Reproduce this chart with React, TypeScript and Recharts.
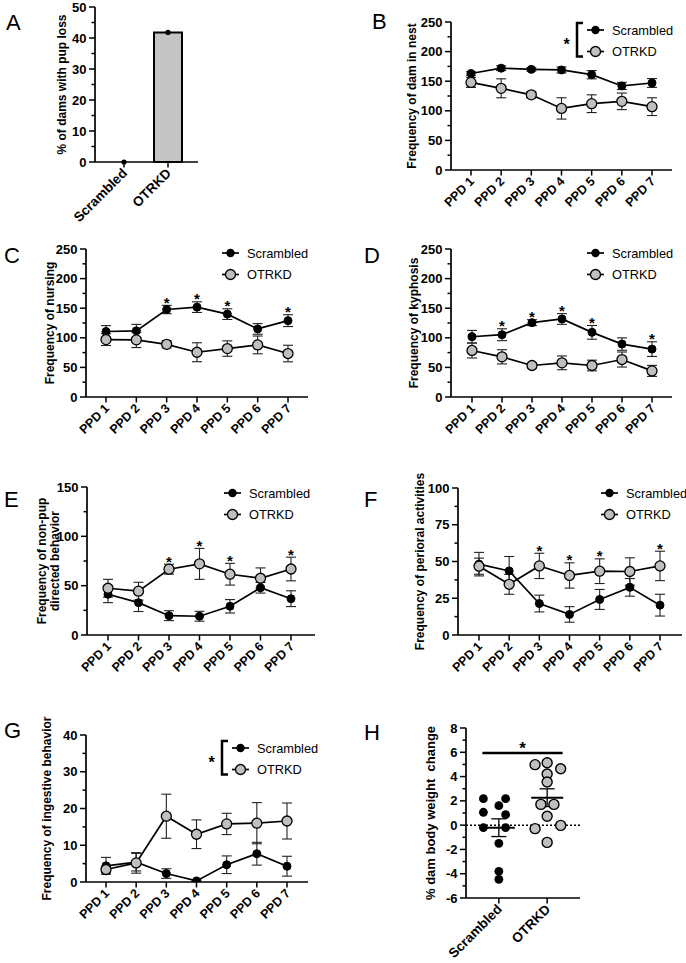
import React from 'react';
import {
  ComposedChart, Line, Bar, Scatter, XAxis, YAxis, ErrorBar, Legend,
  ReferenceLine, ReferenceDot, Customized,
} from 'recharts';

const FONT = '"Liberation Sans", Arial, Helvetica, sans-serif';
const GREY = '#bfbfbf';
const AXIS = { stroke: '#000', strokeWidth: 1.7 };

// ---------- data ----------
const SERIES = ['Scrambled', 'OTRKD'];
const PPD = ['PPD 1', 'PPD 2', 'PPD 3', 'PPD 4', 'PPD 5', 'PPD 6', 'PPD 7'];

// A
const A_GROUPS = ['Scrambled', 'OTRKD'];
const A_VALUES = [0, 41.8];
const A_TICKS = [0, 5, 10, 15, 20, 25, 30, 35, 40, 45, 50];
const A_MAJOR = [0, 10, 20, 30, 40, 50];

// B  Frequency of dam in nest
const B_SCR = [163, 172, 170, 169, 161, 142, 147];
const B_SCR_SEM = [3, 4, 3, 5, 7, 6, 7.5];
const B_OTR = [148, 138, 127, 104, 112, 116, 107];
const B_OTR_SEM = [8.5, 16, 5.5, 18, 15, 14, 15];

// C  nursing
const C_SCR = [110.6, 111.7, 147.8, 151.8, 140, 115, 129];
const C_SCR_SEM = [10, 11, 7, 9, 9, 9, 10];
const C_OTR = [97, 96.5, 89, 75.6, 81.8, 88, 73.4];
const C_OTR_SEM = [10, 13, 6, 16, 13, 15, 14];
const C_SIG = [0, 0, 1, 1, 1, 0, 1];

// D  kyphosis
const D_SCR = [101.8, 105.2, 125.6, 131.8, 109.2, 89.4, 80.9];
const D_SCR_SEM = [10.7, 10, 5, 9, 11.6, 10.5, 12.4];
const D_OTR = [78.6, 67.9, 53.2, 57.7, 53.2, 63.3, 44.1];
const D_OTR_SEM = [12.7, 12, 4, 11.6, 9, 12.7, 9.3];
const D_SIG = [0, 1, 1, 1, 1, 0, 1];

// E  non-pup directed behavior
const E_SCR = [41.3, 32.8, 19.6, 19, 29.1, 47.9, 36.8];
const E_SCR_SEM = [8.5, 9, 5, 5, 6.8, 5.4, 8];
const E_OTR = [47.4, 44.4, 66.7, 72.1, 61.6, 57.5, 66.9];
const E_OTR_SEM = [9, 9, 5, 15.7, 11, 10.5, 12];
const E_SIG = [0, 0, 1, 1, 1, 0, 1];

// F  perioral activities
const F_SCR = [48.2, 43.6, 21.4, 14, 24.2, 32.4, 20.3];
const F_SCR_SEM = [8, 9.8, 5.7, 5.3, 6.8, 6, 7.4];
const F_OTR = [46.8, 34.5, 47, 40.5, 43.4, 43.2, 47];
const F_OTR_SEM = [5.5, 6.8, 8.6, 8.6, 8.4, 9.3, 10];
const F_SIG = [0, 0, 1, 1, 1, 0, 1];

// G  ingestive behavior
const G_SCR = [4.4, 5.4, 2.3, 0.3, 4.7, 7.7, 4.3];
const G_SCR_SEM = [2.3, 2.4, 1.3, 0.2, 2.4, 3.1, 2.7];
const G_OTR = [3.4, 5.2, 17.9, 13, 15.8, 16, 16.6];
const G_OTR_SEM = [0.9, 2.8, 6, 3.9, 2.9, 5.6, 4.9];

// H  % dam body weight change (individual dams)
const H_GROUPS = ['Scrambled', 'OTRKD'];
const H_SCR = [2.18, 2.18, 1.6, 1.06, 0.86, -0.2, -0.2, -1.5, -3.8, -4.46];
const H_SCR_JITTER = [-0.32, 0.14, 0, -0.32, 0.14, -0.32, 0.14, 0, 0, 0];
const H_OTR = [4.98, 5.14, 4.65, 4.21, 3.55, 1.71, 1.71, 0.73, -0.02, -0.29, -1.42];
const H_OTR_JITTER = [-0.25, 0, 0.28, 0, 0, -0.13, 0.14, 0, 0.28, -0.25, 0];
const H_MEAN = [-0.21, 2.26];
const H_SEM = [0.73, 0.73];
const H_SIG_LEVEL = 5.94;
const H_SIG_SPAN = [0.66, 2.32];
const H_TICKS = [-6, -5, -4, -3, -2, -1, 0, 1, 2, 3, 4, 5, 6, 7, 8];
const H_MAJOR = [-6, -4, -2, 0, 2, 4, 6, 8];

// ---------- helpers ----------
function makeYTick(majors: number[], fontSize = 13) {
  return (p: any) => {
    const { x, y, payload } = p;
    const v = payload.value;
    const major = majors.indexOf(v) >= 0;
    return (
      <g>
        <line x1={x} x2={x - (major ? 6 : 3.5)} y1={y} y2={y} stroke="#000" strokeWidth={1.5} />
        {major ? (
          <text x={x - 8.5} y={y + 4.6} textAnchor="end" fontFamily={FONT} fontWeight={700} fontSize={fontSize} fill="#000">
            {v}
          </text>
        ) : null}
      </g>
    );
  };
}

function makeXTick(fontSize: number, labelOf?: (v: any) => string) {
  return (p: any) => {
    const { x, y, payload } = p;
    const label = labelOf ? labelOf(payload.value) : payload.value;
    const tx = x + 4;
    const ty = y + 12;
    return (
      <g>
        <line x1={x} x2={x} y1={y} y2={y + 5.5} stroke="#000" strokeWidth={1.5} />
        <text x={tx} y={ty} textAnchor="end" transform={`rotate(-45 ${tx} ${ty})`} fontFamily={FONT} fontWeight={700} fontSize={fontSize} fill="#000">
          {label}
        </text>
      </g>
    );
  };
}

function PanelText(props: any) {
  const { letter, lx, ly, title, tx, ty, fontSize = 12 } = props;
  const n = title.length;
  return (
    <g>
      <text x={lx} y={ly} fontFamily={FONT} fontSize={22} fill="#000">{letter}</text>
      <text transform={`translate(${tx},${ty}) rotate(-90)`} textAnchor="middle" fontFamily={FONT} fontWeight={700}
        fontSize={fontSize} fill="#000" style={{ whiteSpace: 'pre' }}>
        {title.map((t: string, i: number) => (
          <tspan key={i} x={0} y={fontSize * 0.36 + (i - (n - 1) / 2) * 13.3}>{t}</tspan>
        ))}
      </text>
    </g>
  );
}

function LegendGraphic({ bracket }: { bracket?: boolean }) {
  const r1 = 12;
  const r2 = 33.5;
  return (
    <svg width={130} height={48} style={{ display: 'block', overflow: 'visible' }}>
      {bracket ? (
        <g>
          <text x={9.7} y={(r1 + r2) / 2 + 9.3} textAnchor="middle" fontFamily={FONT} fontWeight={700} fontSize={16} fill="#000">*</text>
          <path d={`M26 ${r1 - 7} H20 V${r2 + 5} H26`} fill="none" stroke="#000" strokeWidth={2.5} />
        </g>
      ) : null}
      <line x1={30} x2={47} y1={r1} y2={r1} stroke="#000" strokeWidth={1.7} />
      <circle cx={38.5} cy={r1} r={4.2} fill="#000" />
      <text x={55} y={r1 + 4.5} fontFamily={FONT} fontSize={12.8} fill="#000">{SERIES[0]}</text>
      <line x1={30} x2={47} y1={r2} y2={r2} stroke="#000" strokeWidth={1.7} />
      <circle cx={38.5} cy={r2} r={5} fill={GREY} stroke="#000" strokeWidth={1.3} />
      <text x={55} y={r2 + 4.5} fontFamily={FONT} fontSize={12.8} fill="#000">{SERIES[1]}</text>
    </svg>
  );
}

const StarDot = (p: any) => {
  const { cx, cy, value, index } = p;
  if (value == null || cy == null || isNaN(cy)) return <g key={`s${index}`} />;
  return (
    <text key={`s${index}`} x={cx} y={cy + 2.5} textAnchor="middle" fontFamily={FONT} fontWeight={700} fontSize={15} fill="#000">*</text>
  );
};

type LineCfg = {
  letter: string;
  box: number[]; // L, T, W, H
  plot: number[]; // x0, y0, x1, y1 (absolute)
  pad: number[];
  yDomain: number[];
  yTicks: number[];
  yMajor: number[];
  title: string[];
  titleX: number;
  letterPos: number[];
  scr: number[]; scrSem: number[]; otr: number[]; otrSem: number[];
  sig?: number[]; sigOn?: 'scr' | 'otr';
  legend: { x: number; y: number; bracket?: boolean };
};

function LinePanel({ cfg }: { cfg: LineCfg }) {
  const [L, T, W, H] = cfg.box;
  const [x0, y0, x1, y1] = cfg.plot;
  const rows = PPD.map((c, i) => ({
    cat: c,
    scr: cfg.scr[i],
    scrErr: cfg.scrSem[i],
    otr: cfg.otr[i],
    otrErr: cfg.otrSem[i],
    star: cfg.sig && cfg.sig[i]
      ? (cfg.sigOn === 'otr' ? cfg.otr[i] + cfg.otrSem[i] : cfg.scr[i] + cfg.scrSem[i])
      : null,
  }));
  return (
    <div style={{ position: 'absolute', left: L, top: T }}>
      <ComposedChart width={W} height={H} data={rows} margin={{ top: y0 - T, right: L + W - x1, bottom: 0, left: 0 }}>
        <XAxis dataKey="cat" type="category" scale="point" padding={{ left: cfg.pad[0], right: cfg.pad[1] }}
          height={T + H - y1} interval={0} tickSize={0} tickMargin={0} tickLine={false} axisLine={AXIS}
          tick={makeXTick(12.5)} />
        <YAxis type="number" domain={cfg.yDomain} ticks={cfg.yTicks} width={x0 - L} interval={0}
          tickSize={0} tickMargin={0} tickLine={false} axisLine={AXIS} tick={makeYTick(cfg.yMajor)} allowDataOverflow />
        <Line dataKey="scr" stroke="#000" strokeWidth={1.7} isAnimationActive={false} activeDot={false}
          dot={{ r: 4, fill: '#000', stroke: '#000', strokeWidth: 1 }}>
          <ErrorBar dataKey="scrErr" direction="y" width={5} stroke="#222" strokeWidth={1.1} isAnimationActive={false} />
        </Line>
        <Line dataKey="otr" stroke="#000" strokeWidth={1.7} isAnimationActive={false} activeDot={false}
          dot={{ r: 5, fill: GREY, stroke: '#000', strokeWidth: 1.3 }}>
          <ErrorBar dataKey="otrErr" direction="y" width={5} stroke="#222" strokeWidth={1.1} isAnimationActive={false} />
        </Line>
        {cfg.sig ? (
          <Line dataKey="star" stroke="none" isAnimationActive={false} activeDot={false} dot={StarDot} />
        ) : null}
        <Legend layout="vertical" align="center" verticalAlign="middle"
          wrapperStyle={{ left: cfg.legend.x - 30 - L, top: cfg.legend.y - 12 - T, width: 130 }}
          content={() => <LegendGraphic bracket={cfg.legend.bracket} />} />
        <Customized component={
          <PanelText letter={cfg.letter} lx={cfg.letterPos[0] - L} ly={cfg.letterPos[1] - T}
            title={cfg.title} tx={cfg.titleX - L} ty={(y0 + y1) / 2 - T} />
        } />
      </ComposedChart>
    </div>
  );
}

const T250 = [0, 25, 50, 75, 100, 125, 150, 175, 200, 225, 250];
const M250 = [0, 50, 100, 150, 200, 250];

const PANELS: LineCfg[] = [
  {
    letter: 'B', box: [340, 0, 346, 210], plot: [451, 22, 672, 170], pad: [20, 20],
    yDomain: [0, 250], yTicks: T250, yMajor: M250, title: ['Frequency of dam in nest'], titleX: 411.7,
    letterPos: [372, 29], scr: B_SCR, scrSem: B_SCR_SEM, otr: B_OTR, otrSem: B_OTR_SEM,
    legend: { x: 587, y: 30, bracket: true },
  },
  {
    letter: 'C', box: [0, 210, 340, 250], plot: [86, 249, 308, 397], pad: [20, 20],
    yDomain: [0, 250], yTicks: T250, yMajor: M250, title: ['Frequency of nursing'], titleX: 49.3,
    letterPos: [4, 263], scr: C_SCR, scrSem: C_SCR_SEM, otr: C_OTR, otrSem: C_OTR_SEM, sig: C_SIG, sigOn: 'scr',
    legend: { x: 222, y: 253.3 },
  },
  {
    letter: 'D', box: [340, 210, 346, 250], plot: [451, 249, 672, 397], pad: [21, 20],
    yDomain: [0, 250], yTicks: T250, yMajor: M250, title: ['Frequency of kyphosis'], titleX: 413.3,
    letterPos: [364, 263], scr: D_SCR, scrSem: D_SCR_SEM, otr: D_OTR, otrSem: D_OTR_SEM, sig: D_SIG, sigOn: 'scr',
    legend: { x: 587, y: 253.3 },
  },
  {
    letter: 'E', box: [0, 460, 340, 250], plot: [87, 487, 315, 635], pad: [21, 24],
    yDomain: [0, 150], yTicks: [0, 25, 50, 75, 100, 125, 150], yMajor: [0, 50, 100, 150],
    title: ['Frequency of non-pup', 'directed behavior'], titleX: 48.3,
    letterPos: [4, 507], scr: E_SCR, scrSem: E_SCR_SEM, otr: E_OTR, otrSem: E_OTR_SEM, sig: E_SIG, sigOn: 'otr',
    legend: { x: 224, y: 492.7 },
  },
  {
    letter: 'F', box: [340, 460, 346, 250], plot: [458, 488, 682, 635], pad: [21, 22],
    yDomain: [0, 100], yTicks: [0, 12.5, 25, 37.5, 50, 62.5, 75, 87.5, 100], yMajor: [0, 25, 50, 75, 100],
    title: ['Frequency of perioral activities'], titleX: 420,
    letterPos: [364, 507], scr: F_SCR, scrSem: F_SCR_SEM, otr: F_OTR, otrSem: F_OTR_SEM, sig: F_SIG, sigOn: 'otr',
    legend: { x: 601, y: 492.7 },
  },
  {
    letter: 'G', box: [0, 710, 340, 253], plot: [86, 735, 308, 882], pad: [20, 21],
    yDomain: [0, 40], yTicks: [0, 5, 10, 15, 20, 25, 30, 35, 40], yMajor: [0, 10, 20, 30, 40],
    title: ['Frequency of ingestive behavior'], titleX: 46.7,
    letterPos: [4, 738], scr: G_SCR, scrSem: G_SCR_SEM, otr: G_OTR, otrSem: G_OTR_SEM,
    legend: { x: 232.3, y: 747.7, bracket: true },
  },
];

function PanelA() {
  const rows = A_GROUPS.map((g, i) => ({ g, v: A_VALUES[i] }));
  return (
    <div style={{ position: 'absolute', left: 0, top: 0 }}>
      <ComposedChart width={340} height={240} data={rows} margin={{ top: 7, right: 142, bottom: 0, left: 0 }}>
        <XAxis dataKey="g" type="category" padding={{ left: 7, right: 8 }} height={78} interval={0}
          tickSize={0} tickMargin={0} tickLine={false} axisLine={AXIS} tick={makeXTick(13.5)} />
        <YAxis type="number" domain={[0, 50]} ticks={A_TICKS} width={95} interval={0}
          tickSize={0} tickMargin={0} tickLine={false} axisLine={AXIS} tick={makeYTick(A_MAJOR)} />
        <Bar dataKey="v" barSize={28} fill="#c4c4c4" stroke="#000" strokeWidth={2} isAnimationActive={false} />
        <Line dataKey="v" stroke="none" isAnimationActive={false} activeDot={false}
          dot={{ r: 2.6, fill: '#000', stroke: 'none' }} />
        <Customized component={
          <PanelText letter="A" lx={6} ly={30} title={['% of dams with pup loss']} tx={62} ty={84.5} />
        } />
      </ComposedChart>
    </div>
  );
}

function PanelH() {
  const scrPts = H_SCR.map((y, i) => ({ x: 1 + H_SCR_JITTER[i], y }));
  const otrPts = H_OTR.map((y, i) => ({ x: 2 + H_OTR_JITTER[i], y }));
  const meanPts = H_MEAN.map((y, i) => ({ x: i + 1, y, err: H_SEM[i] }));
  const L = 340, T = 710;
  return (
    <div style={{ position: 'absolute', left: L, top: T }}>
      <ComposedChart width={346} height={253} margin={{ top: 18, right: 106, bottom: 0, left: 0 }}>
        <XAxis dataKey="x" type="number" domain={[0.32, 2.68]} ticks={[1, 2]} height={65} interval={0}
          tickSize={0} tickMargin={0} tickLine={false} axisLine={AXIS}
          tick={makeXTick(13.5, (v: number) => H_GROUPS[v - 1])} allowDataOverflow />
        <YAxis dataKey="y" type="number" domain={[-6, 8]} ticks={H_TICKS} width={126} interval={0}
          tickSize={0} tickMargin={0} tickLine={false} axisLine={AXIS} tick={makeYTick(H_MAJOR)} allowDataOverflow />
        <ReferenceLine y={0} stroke="#000" strokeWidth={1.5} strokeDasharray="2 2" />
        <ReferenceLine segment={[{ x: H_SIG_SPAN[0], y: H_SIG_LEVEL }, { x: H_SIG_SPAN[1], y: H_SIG_LEVEL }]}
          stroke="#000" strokeWidth={2.6} />
        <ReferenceDot x={(H_SIG_SPAN[0] + H_SIG_SPAN[1]) / 2} y={H_SIG_LEVEL} r={0} stroke="none" fill="none"
          label={{
            content: (p: any) => {
              const vb = p.viewBox || {};
              return (
                <text x={vb.x} y={vb.y + 1} textAnchor="middle" fontFamily={FONT} fontWeight={700} fontSize={17} fill="#000">*</text>
              );
            },
          }} />
        <Scatter data={scrPts} isAnimationActive={false}
          shape={(p: any) => <circle cx={p.cx} cy={p.cy} r={4.4} fill="#000" />} />
        <Scatter data={otrPts} isAnimationActive={false}
          shape={(p: any) => <circle cx={p.cx} cy={p.cy} r={5} fill={GREY} stroke="#000" strokeWidth={1.4} />} />
        <Scatter data={meanPts} isAnimationActive={false}
          shape={(p: any) => <line x1={p.cx - 16} x2={p.cx + 16} y1={p.cy} y2={p.cy} stroke="#000" strokeWidth={2} />}>
          <ErrorBar dataKey="err" direction="y" width={7.5} stroke="#000" strokeWidth={1.3} isAnimationActive={false} />
        </Scatter>
        <Customized component={
          <PanelText letter="H" lx={364 - L} ly={740 - T} title={['% dam body weight  change']} tx={430 - L} ty={813 - T} fontSize={13} />
        } />
      </ComposedChart>
    </div>
  );
}

export default function App() {
  return (
    <div style={{ position: 'absolute', left: 0, top: 0, width: 686, height: 963, background: '#fff', overflow: 'hidden', fontFamily: FONT }}>
      <PanelA />
      {PANELS.map((c) => <LinePanel key={c.letter} cfg={c} />)}
      <PanelH />
    </div>
  );
}
